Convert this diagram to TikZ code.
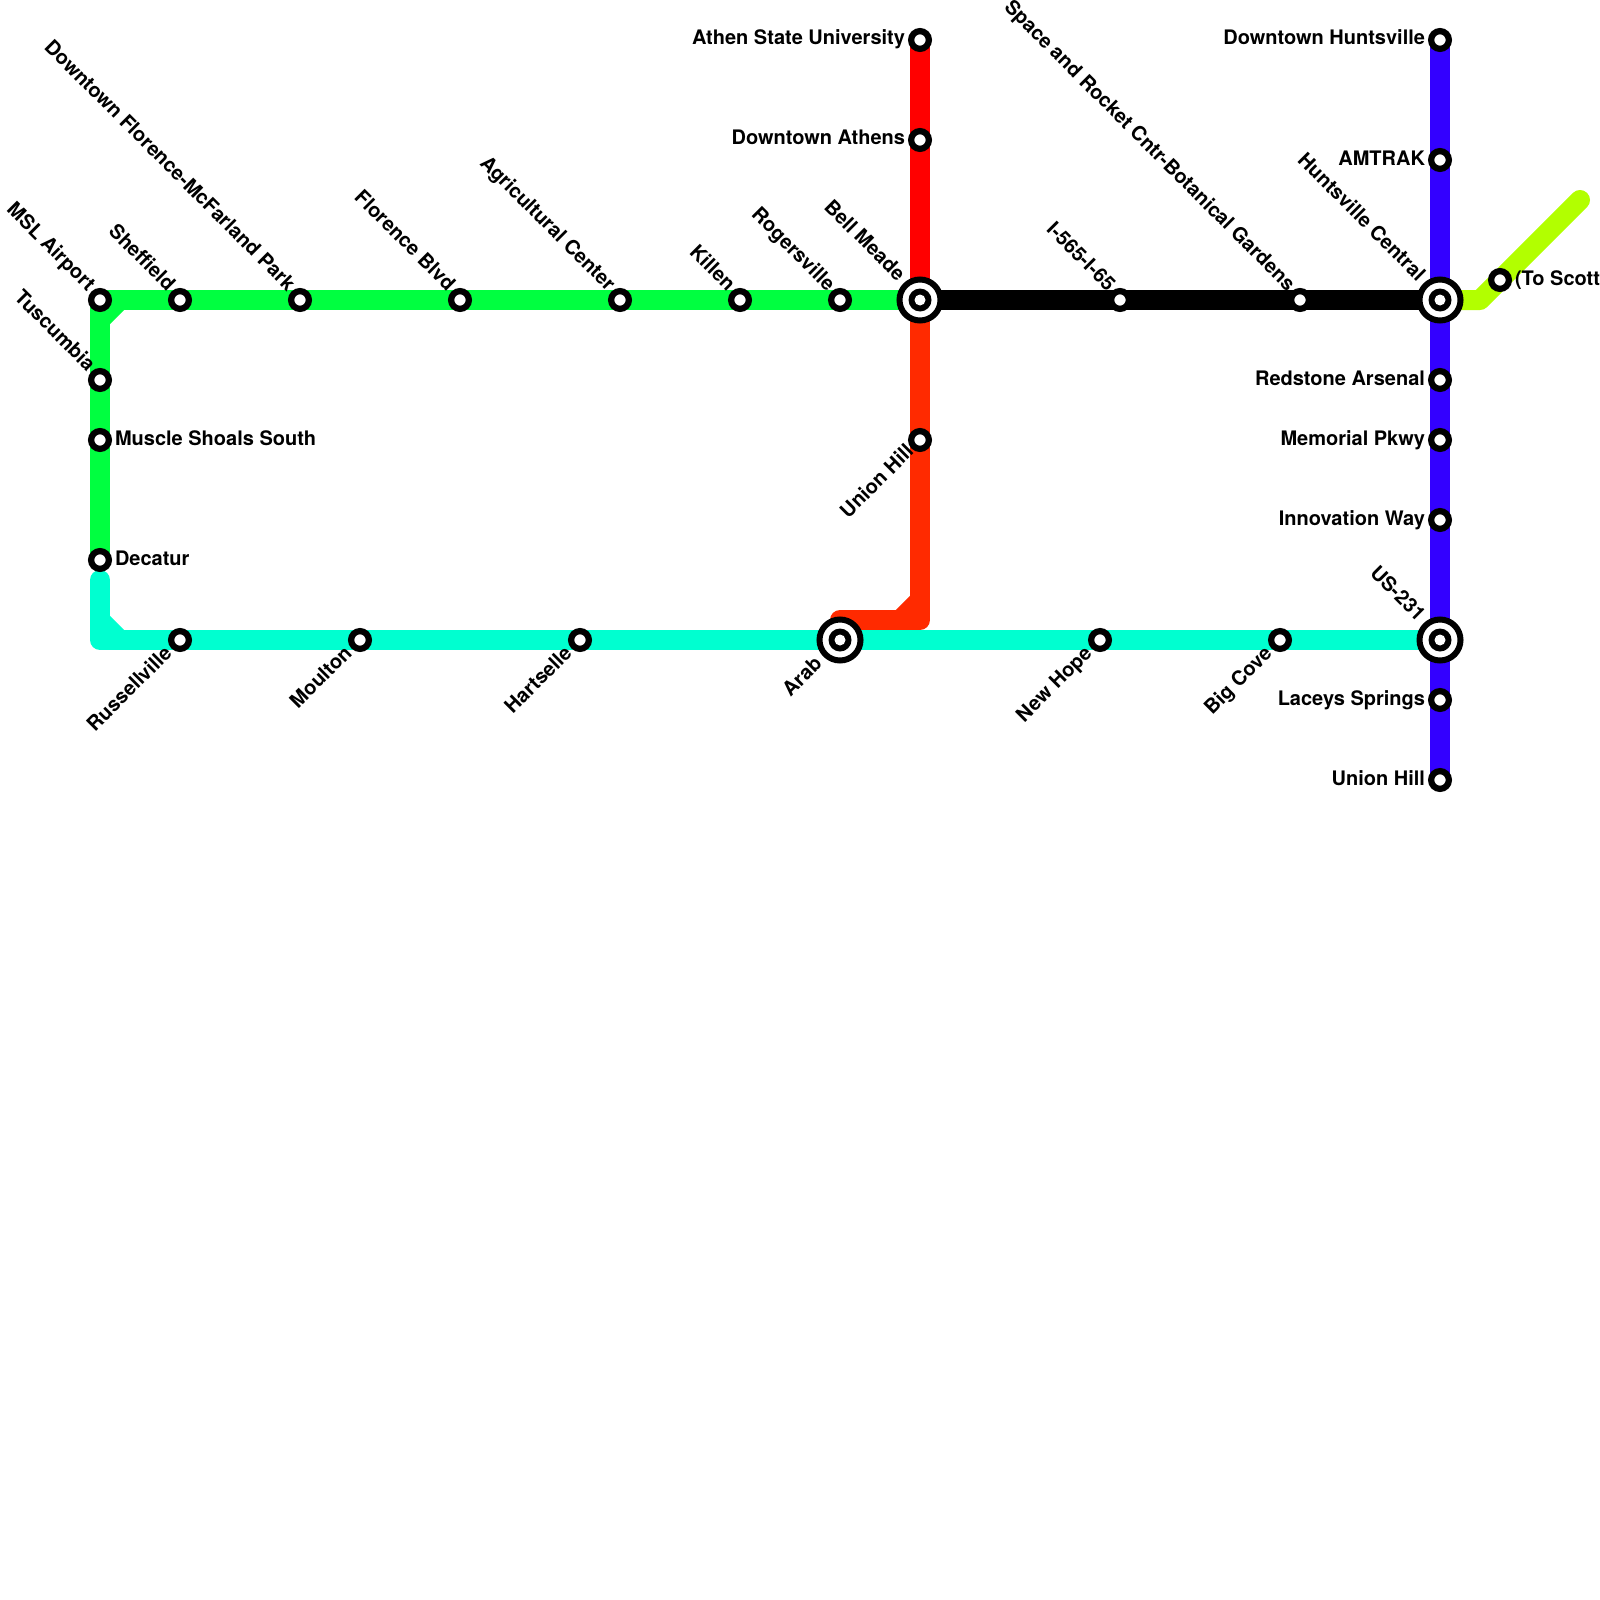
\documentclass[tikz,border=0pt]{standalone}
\usepackage{fontspec}
\setmainfont{TeX Gyre Heros}
\usetikzlibrary{backgrounds}
\definecolor{cgreen}{RGB}{0,255,64}
\definecolor{ccyan}{RGB}{0,255,208}
\definecolor{cred}{RGB}{255,0,0}
\definecolor{corange}{RGB}{255,42,0}
\definecolor{cblue}{RGB}{51,0,255}
\definecolor{clime}{RGB}{178,255,0}
\tikzset{
  x=1pt,y=-1pt,
  stn/.style={circle,draw=black,fill=white,line width=6.25pt,minimum size=17.75pt,inner sep=0pt,outer sep=0pt},
  hub/.style={circle,draw=black,fill=white,line width=6pt,minimum size=41pt,inner sep=0pt,outer sep=0pt,
    path picture={\fill[black] (path picture bounding box.center) circle (11.5pt);
                  \fill[white] (path picture bounding box.center) circle (5.5pt);}},
  lbl/.style={font=\bfseries\fontsize{20}{20}\selectfont,text=black,inner sep=0pt,outer sep=0pt},
  lL/.style={lbl,anchor=base east},
  lR/.style={lbl,anchor=base west},
  lUL/.style={lbl,anchor=base east,rotate=-45},
  lDL/.style={lbl,anchor=base east,rotate=45},
  route/.style={line width=20pt,line join=round,line cap=round},
  diag/.style={line width=20pt,line cap=butt}
}
\begin{document}
\begin{tikzpicture}
\useasboundingbox (0,0) rectangle (1600,1600);
\clip (0,0) rectangle (1600,1600);
% stations
\node[stn] (msl) at (100,300) {};
\node[stn] (shef) at (180,300) {};
\node[stn] (flor) at (300,300) {};
\node[stn] (fblvd) at (460,300) {};
\node[stn] (agri) at (620,300) {};
\node[stn] (kill) at (740,300) {};
\node[stn] (roge) at (840,300) {};
\node[stn] (tusc) at (100,380) {};
\node[stn] (musc) at (100,440) {};
\node[stn] (deca) at (100,560) {};
\node[stn] (russ) at (180,640) {};
\node[stn] (moul) at (360,640) {};
\node[stn] (hart) at (580,640) {};
\node[hub] (arab) at (840,640) {};
\node[stn] (newh) at (1100,640) {};
\node[stn] (bigc) at (1280,640) {};
\node[hub] (us) at (1440,640) {};
\node[stn] (athe) at (920,40) {};
\node[stn] (dath) at (920,140) {};
\node[hub] (bell) at (920,300) {};
\node[stn] (unio) at (920,440) {};
\node[stn] (i565) at (1120,300) {};
\node[stn] (spac) at (1300,300) {};
\node[stn] (dhun) at (1440,40) {};
\node[stn] (amtr) at (1440,160) {};
\node[hub] (hunt) at (1440,300) {};
\node[stn] (reds) at (1440,380) {};
\node[stn] (memo) at (1440,440) {};
\node[stn] (inno) at (1440,520) {};
\node[stn] (lace) at (1440,700) {};
\node[stn] (unih) at (1440,780) {};
\node[stn] (scot) at (1500,280) {};
% free ends and bends
\coordinate (gd1) at (100,320);
\coordinate (gd2) at (120,300);
\coordinate (cstart) at (100,580);
\coordinate (ccorner) at (100,640);
\coordinate (cd1) at (100,620);
\coordinate (cd2) at (120,640);
\coordinate (rcorner) at (920,620);
\coordinate (rleft) at (840,620);
\coordinate (rd1) at (920,600);
\coordinate (rd2) at (900,620);
\coordinate (lbend) at (1480,300);
\coordinate (lend) at (1580,200);
% lines
\begin{scope}[on background layer]
\draw[route,ccyan] (cstart) -- (ccorner) -- (us.center);
\draw[diag,ccyan] (cd1) -- (cd2);
\draw[route,cgreen] (deca.center) -- (msl.center) -- (bell.center);
\draw[diag,cgreen] (gd1) -- (gd2);
\draw[route,cred] (athe.center) -- (bell.center);
\draw[route,corange] (bell.center) -- (rcorner) -- (rleft) -- (arab.center);
\draw[diag,corange] (rd1) -- (rd2);
\draw[route,clime] (hunt.center) -- (lbend) -- (lend);
\draw[route,black] (bell.center) -- (hunt.center);
\draw[route,cblue] (dhun.center) -- (unih.center);
\end{scope}
% labels
\node[lUL] (tMsl) at (87,292) {MSL Airport};
\node[lUL] (tShef) at (167,292) {Sheffield};
\node[lUL] (tFlor) at (287,292) {Downtown Florence-McFarland Park};
\node[lUL] (tFb) at (447,292) {Florence Blvd};
\node[lUL] (tAgri) at (607,292) {Agricultural Center};
\node[lUL] (tKill) at (727,292) {Killen};
\node[lUL] (tRoge) at (827,292) {Rogersville};
\node[lUL] (tBell) at (897,282) {Bell Meade};
\node[lUL] (tI) at (1107,292) {I-565-I-65};
\node[lUL] (tSpac) at (1287,292) {Space and Rocket Cntr-Botanical Gardens};
\node[lUL] (tHunt) at (1417,282) {Huntsville Central};
\node[lUL] (tTusc) at (87,372) {Tuscumbia};
\node[lUL] (tUs) at (1417,622) {US-231};
\node[lR] (tMusc) at (115,445) {Muscle Shoals South};
\node[lR] (tDeca) at (115,565) {Decatur};
\node[lR] (tScot) at (1515,285) {(To Scott};
\node[lL] (tAthe) at (905,45) {Athen State University};
\node[lL] (tDath) at (905,145) {Downtown Athens};
\node[lL] (tDhun) at (1425,45) {Downtown Huntsville};
\node[lL] (tAmtr) at (1425,165) {AMTRAK};
\node[lL] (tReds) at (1425,385) {Redstone Arsenal};
\node[lL] (tMemo) at (1425,445) {Memorial Pkwy};
\node[lL] (tInno) at (1425,525) {Innovation Way};
\node[lL] (tLace) at (1425,705) {Laceys Springs};
\node[lL] (tUnih) at (1425,785) {Union Hill};
\node[lDL] (tUnio) at (914.5,453) {Union Hill};
\node[lDL] (tRuss) at (173,654.5) {Russellville};
\node[lDL] (tMoul) at (353,654.5) {Moulton};
\node[lDL] (tHart) at (573,654.5) {Hartselle};
\node[lDL] (tArab) at (823,665) {Arab};
\node[lDL] (tNewh) at (1093,654.5) {New Hope};
\node[lDL] (tBigc) at (1273,654.5) {Big Cove};
\end{tikzpicture}
\end{document}
